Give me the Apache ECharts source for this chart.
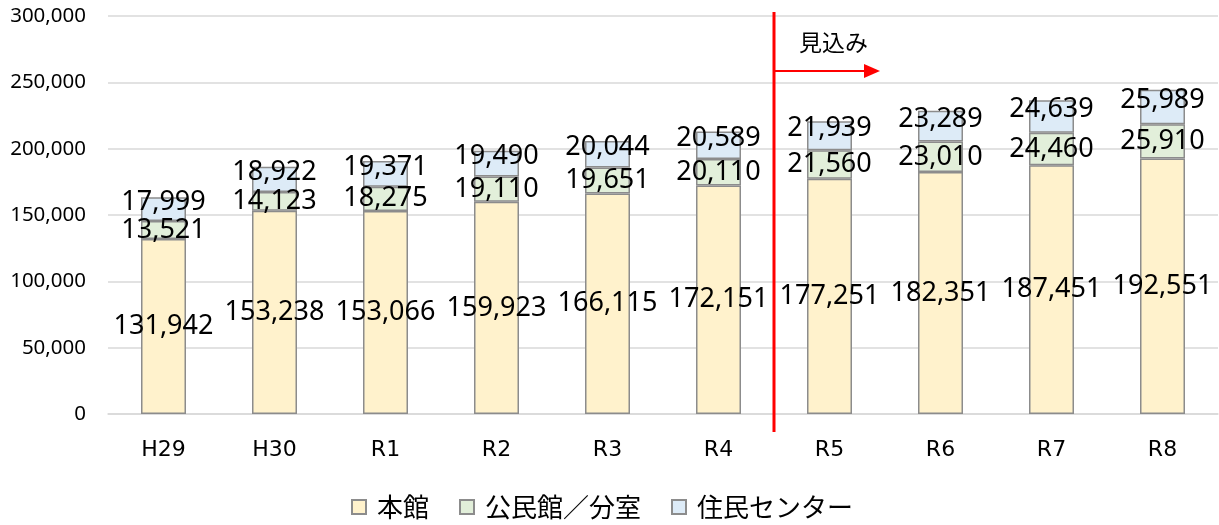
<!DOCTYPE html>
<html><head><meta charset="utf-8">
<script src="https://cdn.jsdelivr.net/npm/echarts@6/dist/echarts.min.js"></script>
<style>html,body{margin:0;padding:0;background:#fff}#c{width:1219px;height:525px}</style>
</head><body><div id="c"></div>
<script>
const categories = ['H29','H30','R1','R2','R3','R4','R5','R6','R7','R8'];
const honkan = [131942,153238,153066,159923,166115,172151,177251,182351,187451,192551];
const kominkan = [13521,14123,18275,19110,19651,20110,21560,23010,24460,25910];
const jumin = [17999,18922,19371,19490,20044,20589,21939,23289,24639,25989];
const yTicks = [0,50000,100000,150000,200000,250000,300000];
const seriesNames = ['本館','公民館／分室','住民センター'];
const forecastLabel = '見込み';

const FONT = '"Noto Sans CJK JP", "Noto Sans", sans-serif';
const NUMFONT = '"Noto Sans", sans-serif';
const fmt = v => v.toLocaleString('en-US');
const chart = echarts.init(document.getElementById('c'));
const barStyle = c => ({color: c, borderColor: '#8c8c8c', borderWidth: 1.5});
const lbl = (extra) => Object.assign({show: true, position: 'inside', fontSize: 27, color: '#000', fontFamily: NUMFONT,
  formatter: p => fmt(p.value)}, extra || {});
chart.setOption({
  animation: false,
  grid: {left: 108, right: 1, top: 16, bottom: 111, containLabel: false},
  legend: {bottom: 0, left: 346, itemWidth: 14, itemHeight: 14, itemGap: 30,
    textStyle: {fontSize: 26, fontFamily: FONT, color: '#000', padding: [0,0,0,6]},
    data: seriesNames.map(n => ({name: n, icon: 'rect'}))},
  xAxis: {type: 'category', data: categories,
    axisLine: {lineStyle: {color: '#d9d9d9', width: 1.5}}, axisTick: {show: false},
    axisLabel: {fontSize: 22, color: '#000', fontFamily: '"DejaVu Sans", sans-serif', margin: 25}},
  yAxis: {type: 'value', min: yTicks[0], max: yTicks[yTicks.length-1], interval: 50000,
    axisLine: {show: false}, axisTick: {show: false},
    splitLine: {lineStyle: {color: '#d9d9d9', width: 1.5}},
    axisLabel: {fontSize: 20.5, color: '#000', fontFamily: NUMFONT, margin: 22, formatter: v => fmt(v)}},
  series: [
    {name: seriesNames[0], type: 'bar', stack: 's', data: honkan, barWidth: 45,
      itemStyle: barStyle('#FFF2CC'), label: lbl()},
    {name: seriesNames[1], type: 'bar', stack: 's', data: kominkan, barWidth: 45,
      itemStyle: barStyle('#E2EFDA'), label: lbl()},
    {name: seriesNames[2], type: 'bar', stack: 's', data: jumin, barWidth: 45,
      itemStyle: barStyle('#DDEBF7'), label: lbl({offset: [0, -7]})}
  ]
});
const x5 = chart.convertToPixel({xAxisIndex: 0}, categories[5]);
const x6 = chart.convertToPixel({xAxisIndex: 0}, categories[6]);
const xm = (x5 + x6) / 2;
const yTop = chart.convertToPixel({yAxisIndex: 0}, yTicks[yTicks.length-1]);
const y0 = chart.convertToPixel({yAxisIndex: 0}, 0);
const yArrow = chart.convertToPixel({yAxisIndex: 0}, 258500);
chart.setOption({graphic: [
  {type: 'line', shape: {x1: xm, y1: yTop - 4, x2: xm, y2: y0 + 18}, style: {stroke: '#ff0000', lineWidth: 3}, z: 100},
  {type: 'line', shape: {x1: xm, y1: yArrow, x2: xm + 92, y2: yArrow}, style: {stroke: '#ff0000', lineWidth: 2}, z: 100},
  {type: 'polygon', shape: {points: [[xm + 90, yArrow - 7], [xm + 106, yArrow], [xm + 90, yArrow + 7]]}, style: {fill: '#ff0000'}, z: 100},
  {type: 'text', x: xm + 25, y: yArrow - 40, style: {text: forecastLabel, fontSize: 23, fontFamily: FONT, fill: '#000'}, z: 100}
]});
</script></body></html>
